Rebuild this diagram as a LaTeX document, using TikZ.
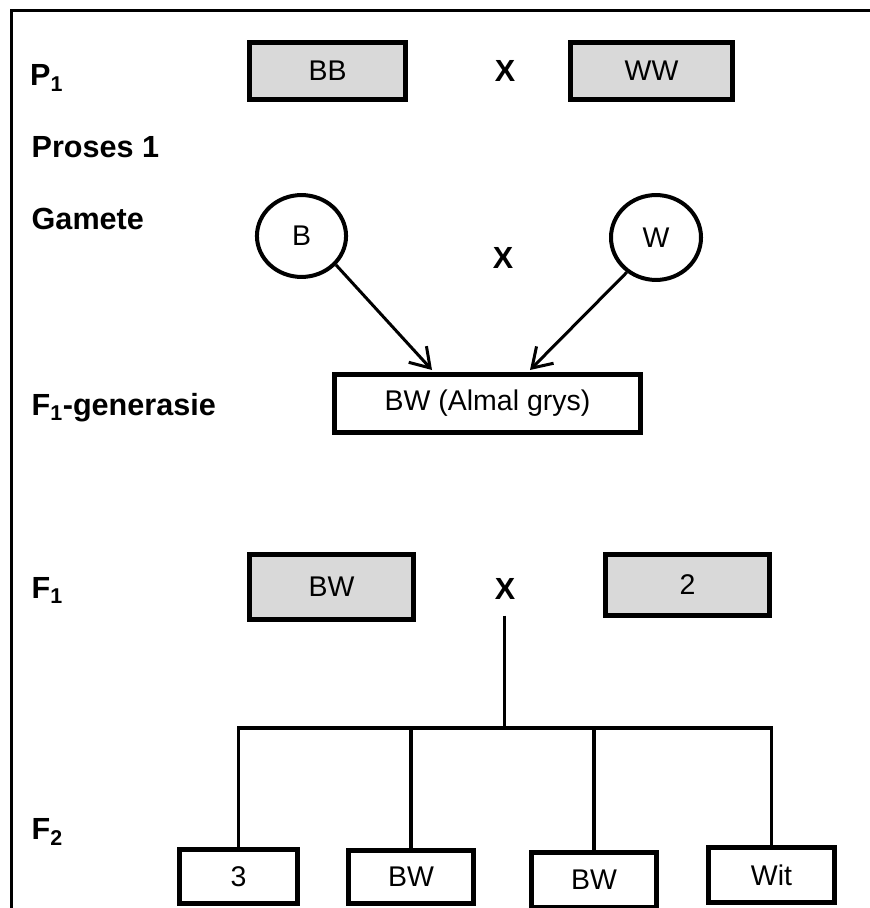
\documentclass[tikz,border=0pt]{standalone}
\usepackage{fontspec}
\setmainfont{Liberation Sans}
\usepackage{xcolor}
\usepackage{tikz}
\usetikzlibrary{shapes,arrows.meta,positioning}

\definecolor{boxgray}{HTML}{D9D9D9}

\begin{document}
\begin{tikzpicture}[
    lbl/.style={anchor=base west, inner sep=0pt, font=\fontsize{29}{32}\selectfont\bfseries},
    cross/.style={inner sep=0pt, font=\fontsize{29}{32}\selectfont\bfseries},
    box/.style={draw, rectangle, line width=4.7pt, inner sep=0pt, font=\fontsize{27}{30}\selectfont},
    graybox/.style={box, fill=boxgray},
    gamete/.style={draw, ellipse, line width=3.8pt, inner sep=0pt, minimum width=2.97cm, minimum height=2.73cm, font=\fontsize{27}{30}\selectfont},
    link/.style={line width=2.85pt},
    arr/.style={line width=2.85pt, -{Straight Barb[length=0.62cm, width=0.8cm, line width=2.85pt]}}
  ]
    \useasboundingbox (0,0) rectangle (29,30.267);

    % Frame
    \draw[line width=2.85pt] (0.367,0) -- (0.367,29.933) -- (29,29.933);

    % Labels
    \node[lbl] (lP) at (1.0, 27.4) {P\textsubscript{1}};
    \node[lbl] (lProses) at (1.05, 25.033) {Proses 1};
    \node[lbl] (lGamete) at (1.05, 22.6) {Gamete};
    \node[lbl] (lFgen) at (1.05, 16.433) {F\textsubscript{1}-generasie};
    \node[lbl] (lF1) at (1.05, 10.333) {F\textsubscript{1}};
    \node[lbl] (lF2) at (1.05, 2.267) {F\textsubscript{2}};

    % Parents
    \node[graybox, minimum width=5.2cm, minimum height=1.9cm] (pB) at (10.917, 27.9) {BB};
    \node[cross] (x1) at (16.833, 27.9) {X};
    \node[graybox, minimum width=5.4cm, minimum height=1.9cm] (pW) at (21.717, 27.9) {WW};

    % Gametes
    \node[gamete] (gB) at (10.05, 22.4) {B};
    \node[cross] (xg) at (16.767, 21.683) {X};
    \node[gamete, minimum width=3.0cm, minimum height=2.83cm] (gW) at (21.867, 22.35) {W};

    % F1 generation
    \node[box, minimum width=10.2cm, minimum height=1.933cm] (hyb) at (16.25, 16.817) {BW (Almal grys)};
    \coordinate (tipB) at (14.4, 17.933);
    \coordinate (tipW) at (17.667, 17.933);
    \draw[arr] (gB.-40) -- (tipB);
    \draw[arr] (gW.-130) -- (tipW);

    % F1 cross
    \node[graybox, minimum width=5.467cm, minimum height=2.167cm] (fB) at (11.05, 10.7) {BW};
    \node[cross] (x2) at (16.833, 10.633) {X};
    \node[graybox, minimum width=5.467cm, minimum height=2.033cm] (fW) at (22.917, 10.767) {2};

    % F2 generation
    \node[box, minimum width=3.933cm, minimum height=1.8cm] (c1) at (7.95, 1.05) {3};
    \node[box, minimum width=4.167cm, minimum height=1.767cm] (c2) at (13.7, 1.033) {BW};
    \node[box, minimum width=4.167cm, minimum height=1.833cm] (c3) at (19.8, 0.933) {BW};
    \node[box, minimum width=4.2cm, minimum height=1.833cm] (c4) at (25.717, 1.1) {Wit};

    % Tree
    \coordinate (split) at (16.833, 6.0);
    \draw[link, shorten <=0.533cm] (x2.south) -- (split);
    \draw[link] (c1.north) |- (split) -| (c4.north);
    \draw[link] (c2.north) -- (c2.north |- split);
    \draw[link] (c3.north) -- (c3.north |- split);
\end{tikzpicture}
\end{document}
